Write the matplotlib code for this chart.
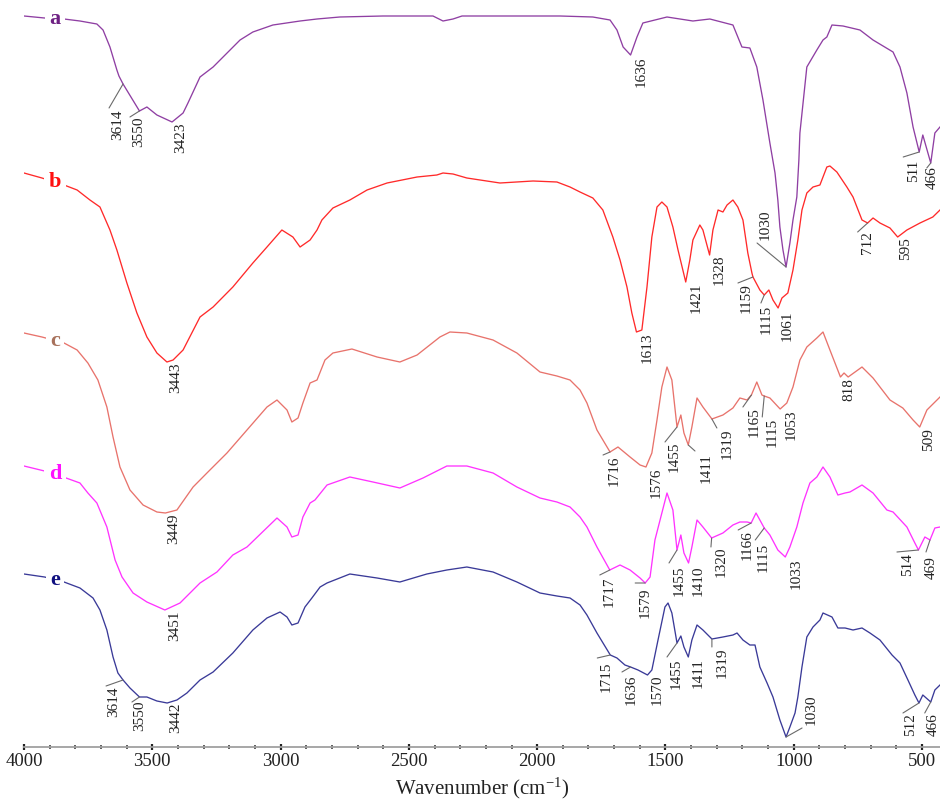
import numpy as np
import matplotlib
matplotlib.use("Agg")
import matplotlib.pyplot as plt

plt.rcParams["font.family"] = ["Liberation Serif", "DejaVu Serif"]
plt.rcParams["mathtext.default"] = "regular"

# ---- FTIR spectra (wavenumber in cm-1, stacked depth in a.u., larger = lower) ----
a_wn = [4000, 3920, 3844, 3782, 3716, 3692, 3665, 3638, 3630, 3614, 3550, 3521, 3482, 3423,
        3380, 3361, 3314, 3263, 3158, 3108, 3030, 2924, 2858, 2769, 2601, 2406, 2367, 2328,
        2293, 2145, 1911, 1783, 1716, 1689, 1665, 1636, 1611, 1588, 1494, 1393, 1327, 1237,
        1202, 1171, 1144, 1120, 1093, 1073, 1062, 1054, 1042, 1030, 1015, 1003, 988, 980,
        976, 949, 910, 886, 871, 851, 808, 742, 691, 613, 586, 559, 535, 511, 497, 466, 450, 430]
a_val = [16, 18, 19, 21, 24, 30, 47, 70, 76, 84, 111, 107, 115, 122,
         113, 103, 77, 67, 40, 32, 25, 21, 19, 17, 16, 16, 21, 19,
         16, 16, 16, 17, 20, 30, 47, 55, 37, 23, 17, 21, 19, 25,
         47, 48, 67, 100, 143, 173, 200, 227, 250, 267, 243, 220, 197, 160,
         133, 67, 50, 40, 37, 25, 26, 30, 40, 52, 67, 93, 127, 152, 135, 163, 133, 127]

b_wn = [4000, 3930, 3844, 3793, 3743, 3704, 3665, 3638, 3599, 3560, 3521, 3482, 3443, 3419,
        3380, 3314, 3263, 3186, 3108, 3053, 2995, 2952, 2924, 2885, 2858, 2839, 2796, 2730,
        2663, 2585, 2468, 2391, 2367, 2328, 2274, 2145, 2016, 1923, 1872, 1833, 1783, 1744,
        1705, 1677, 1650, 1631, 1613, 1592, 1572, 1553, 1533, 1514, 1494, 1471, 1451, 1421,
        1405, 1393, 1366, 1354, 1328, 1315, 1295, 1276, 1260, 1237, 1218, 1198, 1179, 1163,
        1159, 1132, 1115, 1097, 1081, 1061, 1046, 1023, 1003, 984, 968, 949, 925, 898,
        871, 859, 832, 793, 769, 734, 712, 691, 664, 625, 595, 559, 508, 458, 430]
b_val = [173, 178, 185, 190, 200, 207, 230, 250, 283, 313, 337, 353, 362, 360,
         350, 317, 307, 287, 263, 247, 230, 237, 247, 240, 230, 220, 208, 200,
         190, 183, 177, 175, 173, 174, 178, 183, 181, 182, 187, 192, 198, 210,
         237, 260, 287, 313, 332, 330, 287, 237, 207, 202, 207, 227, 250, 282,
         260, 240, 225, 230, 255, 230, 210, 212, 205, 200, 207, 220, 253, 273,
         277, 290, 295, 290, 300, 308, 298, 293, 270, 240, 210, 193, 187, 185,
         167, 166, 172, 187, 197, 220, 223, 218, 223, 228, 237, 230, 223, 217, 210]

c_wn = [4000, 3930, 3844, 3793, 3751, 3712, 3677, 3653, 3626, 3587, 3536, 3482, 3449, 3404,
        3341, 3287, 3209, 3131, 3053, 3014, 2975, 2956, 2932, 2913, 2885, 2858, 2827, 2796,
        2722, 2624, 2535, 2468, 2379, 2340, 2274, 2172, 2079, 1989, 1923, 1872, 1833, 1806,
        1767, 1716, 1685, 1638, 1599, 1576, 1553, 1533, 1514, 1494, 1475, 1455, 1440, 1428,
        1411, 1397, 1377, 1354, 1319, 1276, 1237, 1210, 1182, 1165, 1144, 1124, 1115, 1093,
        1053, 1027, 1003, 976, 949, 910, 886, 859, 818, 804, 788, 734, 691, 625,
        575, 535, 509, 481, 430]
c_val = [333, 337, 343, 350, 363, 380, 407, 437, 467, 490, 505, 512, 513, 510,
         487, 473, 453, 430, 407, 400, 410, 422, 418, 403, 383, 380, 360, 353,
         349, 357, 362, 355, 337, 332, 333, 340, 353, 372, 376, 380, 390, 403,
         430, 452, 447, 457, 465, 467, 453, 420, 387, 367, 380, 427, 415, 433,
         445, 427, 398, 407, 419, 415, 408, 398, 400, 395, 382, 395, 396, 398,
         409, 403, 387, 360, 347, 338, 332, 350, 377, 373, 377, 367, 378, 400,
         408, 420, 427, 410, 397]

d_wn = [4000, 3920, 3836, 3782, 3751, 3716, 3677, 3645, 3618, 3575, 3521, 3451, 3392, 3314,
        3248, 3186, 3131, 3014, 2975, 2956, 2932, 2913, 2885, 2866, 2819, 2730, 2640, 2535,
        2445, 2352, 2274, 2172, 2079, 1989, 1923, 1872, 1833, 1806, 1767, 1717, 1677, 1638,
        1599, 1579, 1560, 1541, 1521, 1494, 1471, 1455, 1440, 1428, 1410, 1397, 1377, 1354,
        1320, 1276, 1237, 1210, 1182, 1166, 1147, 1115, 1093, 1062, 1033, 1015, 988, 964,
        937, 910, 886, 859, 828, 800, 781, 734, 691, 637, 613, 559, 528, 514,
        489, 469, 450, 430]
d_val = [466, 471, 478, 483, 493, 503, 527, 560, 577, 593, 602, 610, 603, 583,
         572, 555, 547, 518, 527, 537, 535, 517, 503, 500, 485, 477, 482, 488,
         478, 466, 466, 473, 487, 498, 502, 507, 517, 527, 547, 570, 565, 570,
         578, 583, 577, 540, 520, 493, 510, 550, 535, 553, 563, 547, 520, 527,
         538, 533, 525, 522, 522, 523, 513, 528, 535, 550, 557, 547, 527, 503,
         483, 477, 467, 477, 495, 493, 492, 485, 493, 510, 512, 527, 543, 550,
         537, 540, 528, 527]

e_wn = [4000, 3920, 3844, 3782, 3731, 3704, 3677, 3653, 3634, 3614, 3587, 3550, 3521, 3482,
        3442, 3404, 3365, 3314, 3263, 3186, 3108, 3053, 3002, 2975, 2956, 2932, 2905, 2878,
        2846, 2819, 2730, 2624, 2535, 2430, 2352, 2274, 2172, 2079, 1989, 1923, 1872, 1833,
        1806, 1767, 1715, 1689, 1658, 1636, 1607, 1570, 1553, 1529, 1502, 1490, 1475, 1455,
        1440, 1428, 1411, 1397, 1377, 1354, 1319, 1276, 1237, 1221, 1198, 1171, 1151, 1132,
        1104, 1081, 1054, 1030, 1015, 995, 984, 968, 949, 925, 898, 886, 851, 828,
        800, 769, 734, 703, 664, 617, 586, 555, 528, 512, 497, 466, 450, 430]
e_val = [574, 577, 582, 588, 598, 610, 630, 657, 673, 680, 688, 697, 697, 701,
         703, 700, 693, 680, 672, 653, 630, 618, 612, 617, 625, 623, 607, 598,
         587, 583, 574, 578, 582, 574, 570, 567, 572, 582, 593, 596, 598, 605,
         615, 633, 655, 658, 665, 667, 670, 675, 670, 640, 607, 603, 613, 643,
         636, 647, 657, 640, 625, 630, 639, 637, 635, 633, 640, 645, 645, 667,
         683, 697, 720, 737, 727, 713, 697, 667, 637, 627, 620, 613, 617, 628,
         628, 630, 628, 633, 640, 655, 663, 680, 695, 703, 695, 702, 690, 685]

# ---- band assignments written under each spectrum ----
a_peaks = [3614, 3550, 3423, 1636, 1030, 511, 466]
b_peaks = [3443, 1613, 1421, 1328, 1159, 1115, 1061, 712, 595]
c_peaks = [3449, 1716, 1576, 1455, 1411, 1319, 1165, 1115, 1053, 818, 509]
d_peaks = [3451, 1717, 1579, 1455, 1410, 1320, 1166, 1115, 1033, 514, 469]
e_peaks = [3614, 3550, 3442, 1715, 1636, 1570, 1455, 1411, 1319, 1030, 512, 466]

tick_values = [4000, 3500, 3000, 2500, 2000, 1500, 1000, 500]

# label placement: (text dx, text dy, leader start dx, dy) in pixels from the band point
a_layout = [(-5, -41, (-14, -24)), (-0.5, -21, (-9.5, -6)), (9, -16, None), (10.4, -17, None),
            (-21, 42, (-29, 24)), (-6, -19, (-16, -5)), (1, -15, (-4, -5))]
b_layout = [(9, -16, None), (10.5, -16, None), (10, -16, None), (9.4, -15, None),
            (-7, -21, (-15, -6)), (1.7, -24, (-3.3, -8)), (9, -18, None),
            (0.3, -20, (-10, -9)), (8, -12, None)]
c_layout = [(8.6, -16, None), (4, -19, (-7, -3)), (10, -16, None), (-3, -30, (-12, -15)),
            (17.7, -23, (6.7, -6)), (15, -25, (5, -9)), (2.5, -27, (-8.5, -12)),
            (7.7, -36, (-2, -21)), (11, -16, None), (8.5, -13, None), (9, -13, None)]
d_layout = [(10, -16, None), (-1, -22, (-10, -5)), (0, -20, (-10, 0)), (2, -31, (-8, -13)),
            (9.4, -18, None), (9.3, -24, (-0.7, -9)), (-4, -22, (-13, -7)),
            (-1.3, -29, (-9, -12)), (10.7, -17, None), (-10.5, -15, (-21.5, -2)),
            (1.5, -28, (-4, -12))]
e_layout = [(-9, -22, (-17, -6)), (0.5, -19, (-7.5, -5)), (9, -15, None), (-4, -22, (-13, -3)),
            (0.4, -23, (-8.6, -5)), (9.5, -15, None), (-1, -31, (-10, -14)), (10, -16, None),
            (10, -24, (0, -8)), (25, 27, (16, 9)), (-8, -22, (-16, -10)), (2, -23, (-6, -11))]

spectra = [
    ("a", a_wn, a_val, a_peaks, a_layout, "#8f3fa3", "#6e2183"),
    ("b", b_wn, b_val, b_peaks, b_layout, "#ff2a2a", "#ff1010"),
    ("c", c_wn, c_val, c_peaks, c_layout, "#e8736c", "#a8725c"),
    ("d", d_wn, d_val, d_peaks, d_layout, "#ff33ff", "#ff10ff"),
    ("e", e_wn, e_val, e_peaks, e_layout, "#3a3a98", "#101080"),
]

fig = plt.figure(figsize=(9.4, 8.01), dpi=100)
ax = fig.add_axes([24 / 940, 54 / 801, 916 / 940, 747 / 801])
ax.set_xlim(4000, 430)
ax.set_ylim(747, 0)

for name, wn, val, peaks, layout, line_col, name_col in spectra:
    wn = np.asarray(wn, float)
    val = np.asarray(val, float)
    ax.plot(wn, val, color=line_col, lw=0.95, zorder=2, solid_joinstyle="round")

    # spectrum letter sits on the start of its trace
    y_name = np.interp(3879, wn[::-1], val[::-1])
    ax.text(3879, y_name, name, color=name_col, fontsize=16, fontweight="bold",
            ha="center", va="center", zorder=4,
            bbox=dict(boxstyle="square,pad=0.2", fc="white", ec="none"))

    for peak, (dx, dy, lead) in zip(peaks, layout):
        y0 = np.interp(peak, wn[::-1], val[::-1])
        ax.annotate(str(peak), xy=(peak, y0), xytext=(dx, dy), textcoords="offset pixels",
                    rotation=90, ha="center", va="center", fontsize=11, color="#222222",
                    annotation_clip=False, zorder=3)
        if lead is not None:
            ax.annotate("", xy=(peak, y0), xytext=lead, textcoords="offset pixels",
                        arrowprops=dict(arrowstyle="-", color="#6a6a6a", lw=0.8,
                                        shrinkA=0, shrinkB=0), zorder=3)

for side in ("left", "right", "top"):
    ax.spines[side].set_visible(False)
ax.spines["bottom"].set_color("#a0a0a0")
ax.spines["bottom"].set_linewidth(1.3)
ax.set_yticks([])
ax.set_xticks(tick_values)
ax.set_xticks(np.arange(4000, 430, -100), minor=True)
ax.tick_params(axis="x", which="major", direction="inout", length=4, width=1.6,
               color="#222222", labelsize=13.5, pad=2.5, labelcolor="#222222")
ax.tick_params(axis="x", which="minor", direction="inout", length=2.5, width=1.2,
               color="#444444")
ax.set_xlabel("Wavenumber (cm$^{-1}$)", fontsize=15, labelpad=4, color="#222222")

fig.savefig("out.png", dpi=100)
